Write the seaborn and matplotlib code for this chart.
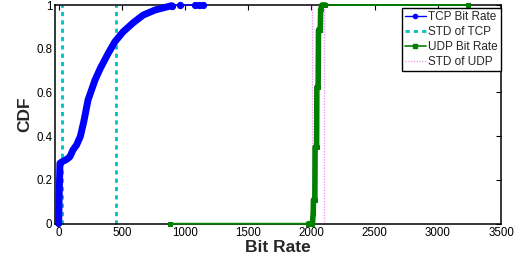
import matplotlib
matplotlib.use("Agg")
import matplotlib.pyplot as plt
import seaborn as sns
import pandas as pd
from matplotlib.lines import Line2D

# ---- data ----
tcp_x = [0, 5, 10, 26, 60, 89, 113, 142, 172, 200, 232, 287, 330, 392, 445, 511,
         590, 669, 762, 841, 894, 960, 1080, 1110, 1142]
tcp_cdf = [0.0, 0.15, 0.276, 0.283, 0.293, 0.306, 0.337, 0.36, 0.40, 0.47, 0.565,
           0.656, 0.711, 0.779, 0.832, 0.878, 0.919, 0.954, 0.977, 0.989, 0.997,
           1.0, 1.0, 1.0, 1.0]
tcp_thick_n = 21  # dense part of the TCP curve (drawn as a thick band)

udp_x = [880, 1975, 2008, 2014, 2016, 2027, 2029, 2041, 2043, 2053, 2056,
         2070, 2073, 2083, 2110, 3237]
udp_cdf = [0.0, 0.0, 0.0, 0.05, 0.108, 0.11, 0.35, 0.35, 0.625, 0.625,
           0.886, 0.886, 0.98, 1.0, 1.0, 1.0]
udp_thick = (1, 15)

tcp_std = [24, 457]
udp_std = [2004, 2096]

x_ticks = [0, 500, 1000, 1500, 2000, 2500, 3000, 3500]
y_ticks = [0, 0.2, 0.4, 0.6, 0.8, 1.0]
y_ticklabels = ["0", "0.2", "0.4", "0.6", "0.8", "1"]
legend_labels = ["TCP Bit Rate", "STD of TCP", "UDP Bit Rate", "STD of UDP"]

# ---- style ----
sns.set_theme(style="white")
plt.rcParams["font.family"] = ["Liberation Sans", "DejaVu Sans"]

BLUE = "#0000ff"
CYAN = "#00bfbf"
GREEN = "#008000"
PINK = "#f09cf0"

fig = plt.figure(figsize=(5.25, 2.59), dpi=100)
ax = fig.add_axes([55 / 525, 1 - 223.7 / 259, (501 - 55) / 525, (223.7 - 5) / 259])

tcp = pd.DataFrame({"x": tcp_x, "y": tcp_cdf})
udp = pd.DataFrame({"x": udp_x, "y": udp_cdf})

# std lines
for v in tcp_std:
    ax.axvline(v, color=CYAN, ls=(0, (1.5, 1.5)), lw=2.0, zorder=1)
for v in udp_std:
    ax.axvline(v, color=PINK, ls=(0, (1, 1)), lw=1.0, zorder=1)

# TCP
sns.lineplot(data=tcp.iloc[:tcp_thick_n], x="x", y="y", sort=False, estimator=None,
             color=BLUE, lw=5.0, ax=ax, legend=False, zorder=3)
sns.lineplot(data=tcp.iloc[tcp_thick_n - 1:], x="x", y="y", sort=False, estimator=None,
             color=BLUE, lw=1.0, marker="o", markersize=4.5, markeredgecolor=BLUE,
             ax=ax, legend=False, zorder=3)

# UDP
sns.lineplot(data=udp.iloc[udp_thick[0]:udp_thick[1]], x="x", y="y", sort=False,
             estimator=None, color=GREEN, lw=4.0, ax=ax, legend=False, zorder=4)
sns.lineplot(data=udp, x="x", y="y", sort=False, estimator=None, color=GREEN,
             lw=1.3, marker="s", markersize=3.5, markeredgecolor=GREEN,
             ax=ax, legend=False, zorder=4)

for ln in ax.lines:
    ln.set_clip_on(False)

ax.set_xlim(-29, 3500)
ax.set_ylim(0, 1)
ax.set_xticks(x_ticks)
ax.set_xticklabels([str(t) for t in x_ticks])
ax.set_yticks(y_ticks)
ax.set_yticklabels(y_ticklabels)
ax.tick_params(direction="in", length=3.5, width=0.8, top=True, right=True,
               labelsize=8.3, colors="black", pad=2.5)
ax.tick_params(axis="y", pad=2)
for s in ax.spines.values():
    s.set_color("black")
    s.set_linewidth(1.1)
    s.set_zorder(2)

ax.set_xlabel("Bit Rate", fontsize=12.5, fontweight="bold", labelpad=0.5)
ax.set_ylabel("CDF", fontsize=12.5, fontweight="bold", labelpad=3)

handles = [
    Line2D([], [], color=BLUE, lw=1.0, marker="o", markersize=3),
    Line2D([], [], color=CYAN, lw=2.0, ls=(0, (1.5, 1.5))),
    Line2D([], [], color=GREEN, lw=1.2, marker="s", markersize=3),
    Line2D([], [], color=PINK, lw=1.0, ls=(0, (1, 1))),
]
leg = ax.legend(handles, legend_labels, loc="upper right", bbox_to_anchor=(1.0, 0.985),
                borderaxespad=0, fontsize=8.5, handlelength=1.8, handletextpad=0.2,
                labelspacing=0.25, borderpad=0.25, fancybox=False, framealpha=1)
leg.get_frame().set_edgecolor("black")
leg.get_frame().set_linewidth(1.0)
leg.set_zorder(10)

fig.savefig("out.png", dpi=100)
